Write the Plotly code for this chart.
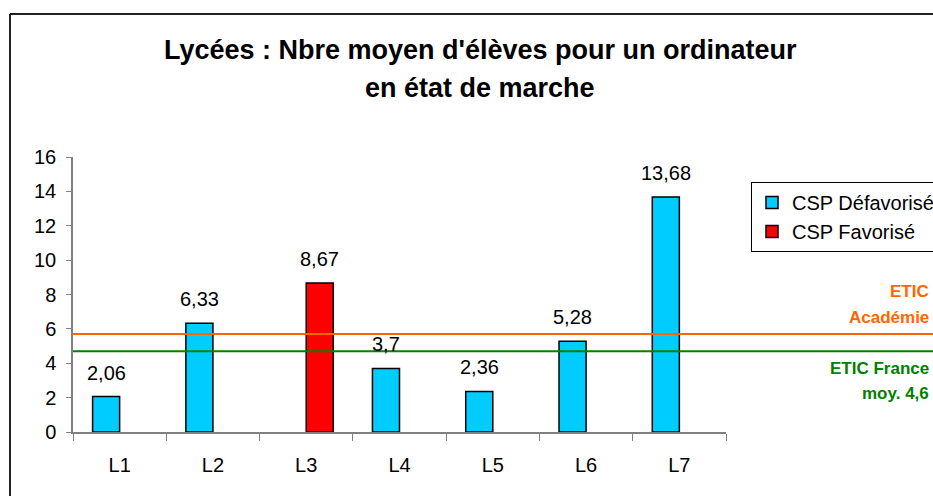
import plotly.graph_objects as go

categories = ["L1", "L2", "L3", "L4", "L5", "L6", "L7"]
defavorise = [2.06, 6.33, None, 3.7, 2.36, 5.28, 13.68]
favorise = [None, None, 8.67, None, None, None, None]
etic_academie = 5.7
etic_france = 4.7
y_ticks = [0, 2, 4, 6, 8, 10, 12, 14, 16]

FONT = "Liberation Sans, Arial, sans-serif"
BARGAP = 0.42

def fmt(v):
    return f"{v:g}".replace(".", ",")

# plot area in pixels
L, R, T, B = 73, 726, 157, 432
W, H = R - L, B - T
def px_x(x):
    return (x - L) / W
def px_y(y):
    return (B - y) / H

cat_px = W / len(categories)
half_off = (1 - BARGAP) / 4 * cat_px  # centre offset of each bar in a group of two

fig = go.Figure()
fig.add_trace(go.Bar(
    x=categories, y=defavorise, name="CSP Défavorisé",
    marker=dict(color="#00CCFF", line=dict(color="black", width=1.5)),
))
fig.add_trace(go.Bar(
    x=categories, y=favorise, name="CSP Favorisé",
    marker=dict(color="#FF0000", line=dict(color="black", width=1.5)),
))

shapes = [
    dict(type="line", xref="paper", yref="y", x0=0, x1=px_x(933), y0=etic_academie, y1=etic_academie,
         line=dict(color="#FF6600", width=2)),
    dict(type="line", xref="paper", yref="y", x0=0, x1=px_x(933), y0=etic_france, y1=etic_france,
         line=dict(color="#008000", width=2)),
    dict(type="line", xref="paper", yref="paper", x0=px_x(10), x1=px_x(940), y0=px_y(14), y1=px_y(14),
         line=dict(color="#222222", width=2)),
    dict(type="line", xref="paper", yref="paper", x0=px_x(10), x1=px_x(10), y0=px_y(14), y1=px_y(500),
         line=dict(color="#222222", width=2)),
]

annotations = [
    dict(text="<b>Lycées : Nbre moyen d'élèves pour un ordinateur</b>", x=px_x(480), y=px_y(50),
         xref="paper", yref="paper", showarrow=False, xanchor="center", yanchor="middle",
         font=dict(size=27, color="black", family=FONT)),
    dict(text="<b>en état de marche</b>", x=px_x(480), y=px_y(88),
         xref="paper", yref="paper", showarrow=False, xanchor="center", yanchor="middle",
         font=dict(size=27, color="black", family=FONT)),
    dict(text="<b>ETIC</b>", x=px_x(931), y=px_y(291), xref="paper", yref="paper", showarrow=False,
         xanchor="right", yanchor="middle", font=dict(size=17, color="#FF6600", family=FONT)),
    dict(text="<b>Académie</b>", x=px_x(931), y=px_y(317), xref="paper", yref="paper", showarrow=False,
         xanchor="right", yanchor="middle", font=dict(size=17, color="#FF6600", family=FONT)),
    dict(text="<b>ETIC France</b>", x=px_x(931), y=px_y(368), xref="paper", yref="paper", showarrow=False,
         xanchor="right", yanchor="middle", font=dict(size=17, color="#008000", family=FONT)),
    dict(text="<b>moy. 4,6</b>", x=px_x(931), y=px_y(393), xref="paper", yref="paper", showarrow=False,
         xanchor="right", yanchor="middle", font=dict(size=17, color="#008000", family=FONT)),
]

# value labels above bars
for vals, shift in ((defavorise, -half_off), (favorise, half_off)):
    for c, v in zip(categories, vals):
        if v is None:
            continue
        annotations.append(dict(text=fmt(v), x=c, y=v, xref="x", yref="y", showarrow=False,
                                xanchor="center", yanchor="middle", xshift=shift, yshift=24,
                                font=dict(size=20, color="black", family=FONT)))

fig.update_layout(
    width=933, height=496,
    margin=dict(l=L, r=933 - R, t=T, b=496 - B, autoexpand=False),
    paper_bgcolor="white", plot_bgcolor="white",
    barmode="group", bargap=BARGAP, bargroupgap=0,
    font=dict(family=FONT, size=18, color="black"),
    showlegend=True,
    legend=dict(x=px_x(751), y=px_y(182), xanchor="left", yanchor="top",
                bordercolor="black", borderwidth=1, bgcolor="white",
                font=dict(size=20, family=FONT), itemwidth=30, tracegroupgap=4),
    shapes=shapes, annotations=annotations,
    xaxis=dict(range=[-0.5, 6.5], showline=True, linecolor="#808080", linewidth=1.5,
               ticks="outside", tickson="boundaries", ticklen=7, tickcolor="#808080",
               showgrid=False, zeroline=False, tickfont=dict(size=20), ticklabelstandoff=14),
    yaxis=dict(range=[0, 16], tickvals=y_ticks, showline=True, linecolor="#808080", linewidth=1.5,
               ticks="outside", ticklen=5, tickcolor="#808080", showgrid=False, zeroline=False,
               tickfont=dict(size=20), ticklabelstandoff=6),
)

fig.write_html("out.html", config={"displayModeBar": False},
               post_script="document.body.style.margin='0';document.body.style.overflow='hidden';")
